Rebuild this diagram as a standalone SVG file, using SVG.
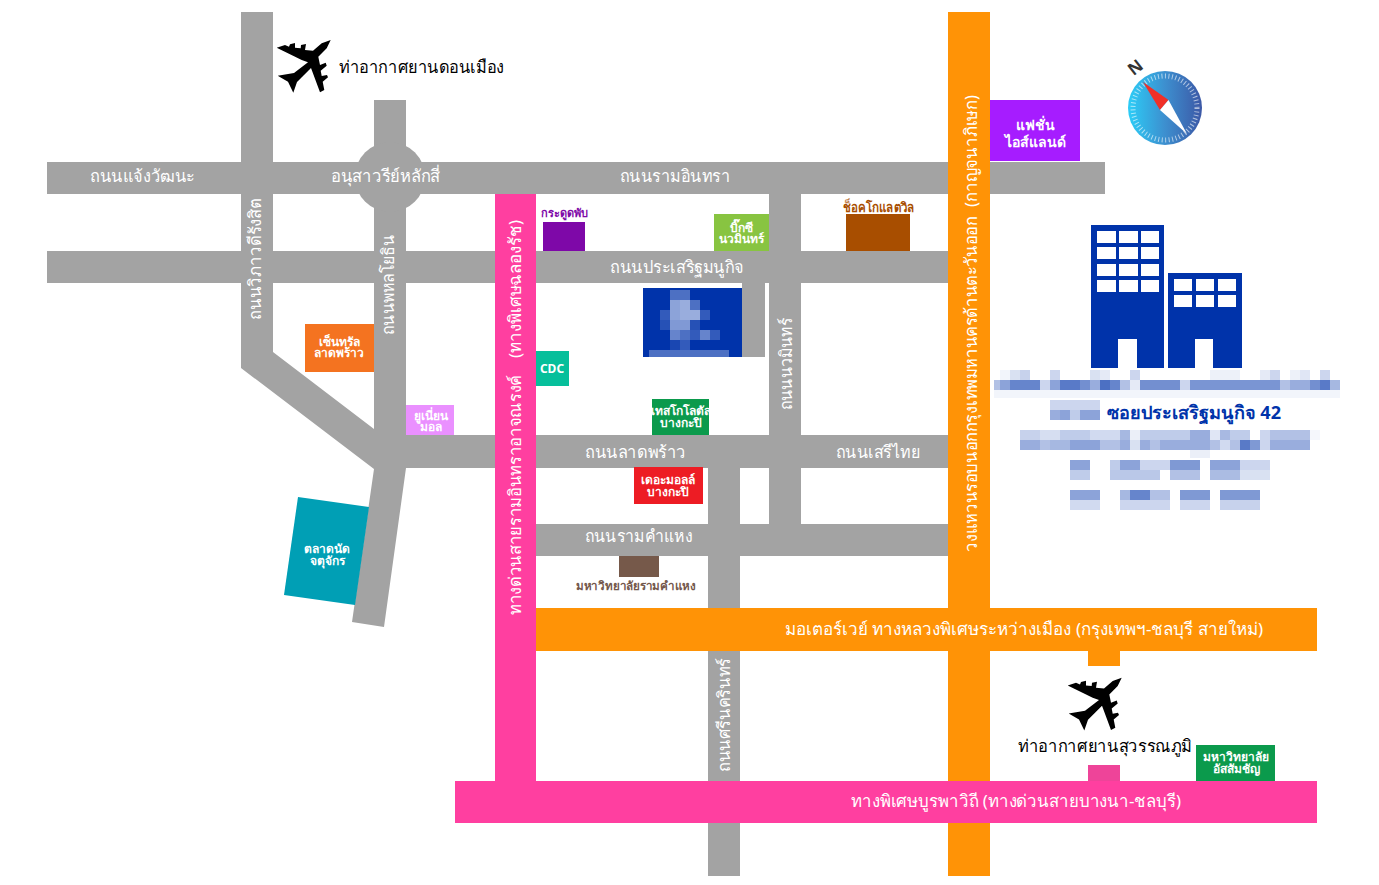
<svg xmlns="http://www.w3.org/2000/svg" width="1379" height="885" viewBox="0 0 1379 885">
<style>
text{font-family:"Noto Sans","Open Sans","Liberation Sans",sans-serif;text-anchor:middle;dominant-baseline:central}
.road{fill:#a3a3a3}
.rl{fill:#fff;font-size:17px}
.bl{fill:#fff;font-size:12px;font-weight:700}
.bm{fill:#fff;font-size:14px;font-weight:700}
.bk{fill:#000;font-size:17px}
</style>
<defs>
<linearGradient id="cg" x1="0" y1="0" x2="1" y2="0"><stop offset="0" stop-color="#2ccdf7"/><stop offset="0.5" stop-color="#3d8fcf"/><stop offset="1" stop-color="#3c58a6"/></linearGradient>
<path id="plane" fill="#000" d="M330.7 40L321.7 43.3 313 50.7 305 50 306 44 301 45 300.7 48.3 295 47.7 295 43 290 44.3 289 46.7 285 45 276.7 47.7 301.7 60 308 62.3 294 73 277.7 75.7 288 81.7 293.3 92.7 297 82 311 68 320 92.3 324.3 90 322.7 81.7 328 77.3 327 75 321.7 76 320.7 70.7 326.7 65.7 325.7 62.7 320 65 318.3 56.7 326.7 48.3Z"/>
</defs>
<rect width="1379" height="885" fill="#fff"/>
<g id="connectors">
<path class="road" d="M241 12H273V352L374 429V100H406V468L384 627 352 622 374 469 241 368Z"/>
<circle class="road" cx="390" cy="177" r="35"/>
<rect class="road" x="47" y="162" width="1058" height="32"/>
<rect class="road" x="47" y="251" width="901" height="32"/>
<rect class="road" x="374" y="435" width="574" height="33"/>
<rect class="road" x="536" y="524" width="412" height="32"/>
<rect class="road" x="769" y="194" width="32" height="330"/>
<rect class="road" x="708" y="435" width="32" height="441"/>
<rect class="road" x="742" y="283" width="23" height="74"/>
<rect x="495" y="194" width="41" height="587" fill="#ff3fa0"/>
<rect x="1088" y="651" width="32" height="15" fill="#ff9306"/>
<rect x="1088" y="765" width="32" height="16" fill="#ee4499"/>
<rect x="948" y="12" width="42" height="864" fill="#ff9306"/>
<rect x="536" y="608" width="781" height="43" fill="#ff9306"/>
<rect x="455" y="781" width="862" height="42" fill="#ff3fa0"/>
</g>
<g id="road-labels">
<text class="rl" x="142.500" y="175" textLength="105" lengthAdjust="spacingAndGlyphs">ถนนแจ้งวัฒนะ</text>
<text class="rl" x="385.500" y="175" textLength="109" lengthAdjust="spacingAndGlyphs">อนุสาวรีย์หลักสี่</text>
<text class="rl" x="675" y="175" textLength="110" lengthAdjust="spacingAndGlyphs">ถนนรามอินทรา</text>
<text class="rl" x="677" y="266" textLength="134" lengthAdjust="spacingAndGlyphs">ถนนประเสริฐมนูกิจ</text>
<text class="rl" x="635.500" y="451" textLength="101" lengthAdjust="spacingAndGlyphs">ถนนลาดพร้าว</text>
<text class="rl" x="878" y="451" textLength="84" lengthAdjust="spacingAndGlyphs">ถนนเสรีไทย</text>
<text class="rl" x="638.500" y="535" textLength="107" lengthAdjust="spacingAndGlyphs">ถนนรามคำแหง</text>
<text class="rl" x="1024" y="628" textLength="478" lengthAdjust="spacingAndGlyphs">มอเตอร์เวย์ ทางหลวงพิเศษระหว่างเมือง (กรุงเทพฯ-ชลบุรี สายใหม่)</text>
<text class="rl" x="1016" y="800" textLength="330" lengthAdjust="spacingAndGlyphs">ทางพิเศษบูรพาวิถี (ทางด่วนสายบางนา-ชลบุรี)</text>
<text class="rl" transform="translate(254 259) rotate(-90)" textLength="122" lengthAdjust="spacingAndGlyphs">ถนนวิภาวดีรังสิต</text>
<text class="rl" transform="translate(387 285) rotate(-90)" textLength="100" lengthAdjust="spacingAndGlyphs">ถนนพหลโยธิน</text>
<text class="rl" transform="translate(514 495) rotate(-90)" textLength="240" lengthAdjust="spacingAndGlyphs">ทางด่วนสายรามอินทราอาจณรงค์</text>
<text class="rl" transform="translate(514 289) rotate(-90)" textLength="138" lengthAdjust="spacingAndGlyphs">(ทางพิเศษฉลองรัช)</text>
<text class="rl" transform="translate(785 364) rotate(-90)" textLength="92" lengthAdjust="spacingAndGlyphs">ถนนนวมินทร์</text>
<text class="rl" transform="translate(970 384) rotate(-90)" textLength="335" lengthAdjust="spacingAndGlyphs">วงแหวนรอบนอกกรุงเทพมหานครด้านตะวันออก</text>
<text class="rl" transform="translate(970 151) rotate(-90)" textLength="112" lengthAdjust="spacingAndGlyphs">(กาญจนาภิเษก)</text>
<text class="rl" transform="translate(723 715) rotate(-90)" textLength="114" lengthAdjust="spacingAndGlyphs">ถนนศรีนครินทร์</text>
</g>
<g id="don-mueang"><use href="#plane"/><text class="bk" x="421.500" y="66" textLength="165" lengthAdjust="spacingAndGlyphs">ท่าอากาศยานดอนเมือง</text></g>
<g id="suvarnabhumi"><use href="#plane" x="791" y="637.7"/><text class="bk" x="1105" y="745" textLength="174" lengthAdjust="spacingAndGlyphs">ท่าอากาศยานสุวรรณภูมิ</text></g>
<g id="fashion"><rect x="990" y="100" width="90" height="61" fill="#a61cff"/><text class="bm" x="1035"><tspan x="1035" y="124">แฟชั่น</tspan><tspan x="1035" y="141">ไอส์แลนด์</tspan></text></g>
<g id="central"><rect x="305" y="324" width="69" height="48" fill="#f47320"/><text class="bl"><tspan x="339" y="341">เซ็นทรัล</tspan><tspan x="339" y="352">ลาดพร้าว</tspan></text></g>
<g id="union"><rect x="406" y="405" width="48" height="30" fill="#ea90ff"/><text class="bl"><tspan x="431" y="415">ยูเนี่ยน</tspan><tspan x="431" y="426">มอล</tspan></text></g>
<g id="jatujak"><path d="M298 497L369 507 355 605 284 595Z" fill="#009fb5"/><text class="bl"><tspan x="327" y="548">ตลาดนัด</tspan><tspan x="327" y="560">จตุจักร</tspan></text></g>
<g id="cdc"><rect x="536" y="351" width="33" height="35" fill="#06bf9b"/><text class="bl" x="552" y="368">CDC</text></g>
<g id="tesco"><rect x="652" y="399" width="57" height="36" fill="#0b9a4c"/><text class="bl"><tspan x="681" y="410">เทสโกโลตัส</tspan><tspan x="681" y="422">บางกะปิ</tspan></text></g>
<g id="mall"><rect x="634" y="467" width="69" height="37" fill="#ed1c24"/><text class="bl"><tspan x="668" y="479">เดอะมอลล์</tspan><tspan x="668" y="491">บางกะปิ</tspan></text></g>
<g id="bigc"><rect x="714" y="214" width="55" height="37" fill="#88c441"/><text class="bl"><tspan x="741" y="227">บิ๊กซี</tspan><tspan x="741" y="238">นวมินทร์</tspan></text></g>
<g id="kradook"><rect x="543" y="222" width="42" height="29" fill="#7e08a8"/><text x="564" y="212" font-size="11" font-weight="700" fill="#7e08a8">กระดูดพับ</text></g>
<g id="chocolate"><rect x="846" y="214" width="64" height="37" fill="#a84e00"/><text x="878.500" y="207" font-size="13" font-weight="700" fill="#a84e00" textLength="71" lengthAdjust="spacingAndGlyphs">ช็อคโกแลตวิล</text></g>
<g id="ramkhamhaeng"><rect x="619" y="556" width="40" height="21" fill="#76594a"/><text x="636" y="585" font-size="12" font-weight="700" fill="#74574b" textLength="120" lengthAdjust="spacingAndGlyphs">มหาวิทยาลัยรามคำแหง</text></g>
<g id="abac"><rect x="1196" y="745" width="79" height="36" fill="#0b9a4c"/><text class="bl"><tspan x="1236" y="756">มหาวิทยาลัย</tspan><tspan x="1236" y="768">อัสสัมชัญ</tspan></text></g>
<g id="site-map-mosaic">
<rect x="643" y="288" width="99" height="69" fill="#0033aa"/>
<g fill="#fff">
<rect x="670" y="290" width="20" height="10" opacity=".3"/>
<rect x="670" y="300" width="10" height="10" opacity=".55"/><rect x="680" y="300" width="10" height="10" opacity=".6"/><rect x="690" y="300" width="10" height="10" opacity=".3"/>
<rect x="660" y="310" width="10" height="10" opacity=".2"/><rect x="670" y="310" width="10" height="10" opacity=".55"/><rect x="680" y="310" width="20" height="10" opacity=".6"/><rect x="700" y="310" width="10" height="10" opacity=".2"/>
<rect x="660" y="320" width="10" height="10" opacity=".15"/><rect x="670" y="320" width="20" height="10" opacity=".5"/><rect x="690" y="320" width="10" height="10" opacity=".15"/>
<rect x="670" y="330" width="10" height="10" opacity=".4"/><rect x="680" y="330" width="10" height="10" opacity=".3"/><rect x="690" y="330" width="10" height="10" opacity=".2"/><rect x="700" y="330" width="10" height="10" opacity=".4"/><rect x="710" y="330" width="10" height="10" opacity=".2"/>
<rect x="670" y="340" width="10" height="10" opacity=".1"/><rect x="680" y="340" width="10" height="10" opacity=".2"/>
<rect x="649" y="350" width="80" height="7" opacity=".3"/>
</g>
</g>
<g id="building" fill="#0033aa">
<path fill-rule="evenodd" d="M1091 225H1164V368H1137V339H1118V368H1091ZM1097 231V243H1116V231ZM1119 231V243H1138V231ZM1141 231V243H1159V231ZM1097 247V259H1116V247ZM1119 247V259H1138V247ZM1141 247V259H1159V247ZM1097 264V276H1116V264ZM1119 264V276H1138V264ZM1141 264V276H1159V264ZM1097 280V292H1116V280ZM1119 280V292H1138V280ZM1141 280V292H1159V280Z"/>
<path fill-rule="evenodd" d="M1168 273H1242V368H1213V339H1195V368H1168ZM1174 279V291H1192V279ZM1196 279V291H1214V279ZM1218 279V291H1236V279ZM1174 295V307H1192V295ZM1196 295V307H1214V295ZM1218 295V307H1236V295Z"/>
</g>
<g id="address-mosaic" fill="#0033aa">
<rect x="1000" y="370" width="10" height="10" opacity=".05"/><rect x="1010" y="370" width="10" height="10" opacity=".15"/><rect x="1020" y="370" width="10" height="10" opacity=".22"/><rect x="1050" y="370" width="10" height="10" opacity=".2"/><rect x="1090" y="370" width="10" height="10" opacity=".15"/><rect x="1100" y="370" width="10" height="10" opacity=".1"/><rect x="1130" y="370" width="10" height="10" opacity=".2"/><rect x="1210" y="370" width="30" height="10" opacity=".07"/><rect x="1260" y="370" width="10" height="10" opacity=".1"/><rect x="1270" y="370" width="10" height="10" opacity=".2"/><rect x="1290" y="370" width="10" height="10" opacity=".07"/><rect x="1300" y="370" width="10" height="10" opacity=".12"/><rect x="1320" y="370" width="10" height="10" opacity=".2"/>
<rect x="994" y="380" width="6" height="10" opacity=".3"/><rect x="1000" y="380" width="10" height="10" opacity=".45"/><rect x="1010" y="380" width="30" height="10" opacity=".6"/><rect x="1040" y="380" width="10" height="10" opacity=".2"/><rect x="1050" y="380" width="10" height="10" opacity=".45"/><rect x="1060" y="380" width="20" height="10" opacity=".65"/><rect x="1080" y="380" width="10" height="10" opacity=".55"/><rect x="1090" y="380" width="10" height="10" opacity=".4"/><rect x="1100" y="380" width="10" height="10" opacity=".7"/><rect x="1110" y="380" width="10" height="10" opacity=".6"/><rect x="1120" y="380" width="10" height="10" opacity=".3"/><rect x="1130" y="380" width="10" height="10" opacity=".1"/><rect x="1140" y="380" width="40" height="10" opacity=".55"/><rect x="1180" y="380" width="10" height="10" opacity=".2"/><rect x="1190" y="380" width="90" height="10" opacity=".52"/><rect x="1280" y="380" width="10" height="10" opacity=".3"/><rect x="1290" y="380" width="20" height="10" opacity=".4"/><rect x="1310" y="380" width="10" height="10" opacity=".55"/><rect x="1320" y="380" width="10" height="10" opacity=".65"/><rect x="1330" y="380" width="10" height="10" opacity=".35"/>
<rect x="994" y="390" width="346" height="8" opacity=".05"/>
<rect x="1050" y="400" width="50" height="10" opacity=".2"/><rect x="1050" y="410" width="10" height="10" opacity=".4"/><rect x="1060" y="410" width="10" height="10" opacity=".45"/><rect x="1070" y="410" width="10" height="10" opacity=".25"/><rect x="1080" y="410" width="20" height="10" opacity=".45"/>
<rect x="1020" y="430" width="20" height="10" opacity=".22"/><rect x="1040" y="430" width="20" height="10" opacity=".16"/><rect x="1060" y="430" width="30" height="10" opacity=".25"/><rect x="1090" y="430" width="30" height="10" opacity=".18"/><rect x="1120" y="430" width="10" height="10" opacity=".35"/><rect x="1130" y="430" width="10" height="10" opacity=".08"/><rect x="1140" y="430" width="50" height="10" opacity=".25"/><rect x="1190" y="430" width="20" height="10" opacity=".4"/><rect x="1210" y="430" width="20" height="10" opacity=".12"/><rect x="1220" y="430" width="30" height="10" opacity=".25"/><rect x="1260" y="430" width="10" height="10" opacity=".2"/><rect x="1270" y="430" width="40" height="10" opacity=".3"/><rect x="1310" y="430" width="10" height="10" opacity=".04"/>
<rect x="1020" y="440" width="20" height="10" opacity=".4"/><rect x="1040" y="440" width="10" height="10" opacity=".3"/><rect x="1050" y="440" width="20" height="10" opacity=".35"/><rect x="1070" y="440" width="30" height="10" opacity=".45"/><rect x="1100" y="440" width="20" height="10" opacity=".3"/><rect x="1120" y="440" width="10" height="10" opacity=".4"/><rect x="1130" y="440" width="10" height="10" opacity=".15"/><rect x="1140" y="440" width="10" height="10" opacity=".4"/><rect x="1150" y="440" width="10" height="10" opacity=".3"/><rect x="1160" y="440" width="50" height="10" opacity=".4"/><rect x="1210" y="440" width="10" height="10" opacity=".3"/><rect x="1220" y="440" width="10" height="10" opacity=".18"/><rect x="1230" y="440" width="20" height="10" opacity=".3"/><rect x="1240" y="440" width="20" height="10" opacity=".5"/><rect x="1260" y="440" width="10" height="10" opacity=".2"/><rect x="1270" y="440" width="40" height="10" opacity=".4"/>
<rect x="1190" y="450" width="20" height="8" opacity=".08"/>
<rect x="1070" y="460" width="20" height="10" opacity=".45"/><rect x="1110" y="460" width="10" height="10" opacity=".25"/><rect x="1120" y="460" width="20" height="10" opacity=".45"/><rect x="1140" y="460" width="30" height="10" opacity=".2"/><rect x="1170" y="460" width="30" height="10" opacity=".5"/><rect x="1210" y="460" width="30" height="10" opacity=".45"/><rect x="1240" y="460" width="30" height="10" opacity=".2"/>
<rect x="1070" y="470" width="20" height="10" opacity=".25"/><rect x="1110" y="470" width="50" height="10" opacity=".27"/><rect x="1170" y="470" width="30" height="10" opacity=".3"/><rect x="1210" y="470" width="30" height="10" opacity=".33"/><rect x="1240" y="470" width="30" height="10" opacity=".15"/>
<rect x="1070" y="490" width="30" height="10" opacity=".45"/><rect x="1120" y="490" width="10" height="10" opacity=".35"/><rect x="1130" y="490" width="20" height="10" opacity=".6"/><rect x="1150" y="490" width="20" height="10" opacity=".3"/><rect x="1180" y="490" width="30" height="10" opacity=".5"/><rect x="1220" y="490" width="40" height="10" opacity=".5"/>
<rect x="1070" y="500" width="30" height="10" opacity=".18"/><rect x="1120" y="500" width="50" height="10" opacity=".2"/><rect x="1180" y="500" width="30" height="10" opacity=".2"/><rect x="1220" y="500" width="40" height="10" opacity=".22"/>
</g>
<g id="address"><text x="1194" y="412" font-size="18" font-weight="700" fill="#0033aa" textLength="174" lengthAdjust="spacingAndGlyphs">ซอยประเสริฐมนูกิจ 42</text></g>
<g id="compass">
<circle cx="1165" cy="108" r="37" fill="url(#cg)"/>
<circle cx="1165" cy="108" r="32" fill="none" stroke="#fff" stroke-opacity=".6" stroke-width="5" stroke-dasharray="1 2.5"/>
<path d="M1143 82L1168.500 100 1160 110Z" fill="#f03028"/>
<path d="M1187 134L1168.500 100 1160 110Z" fill="#fff"/>
<text transform="translate(1135 67) rotate(-38)" font-size="17" font-weight="700" fill="#333">N</text>
</g>
</svg>
